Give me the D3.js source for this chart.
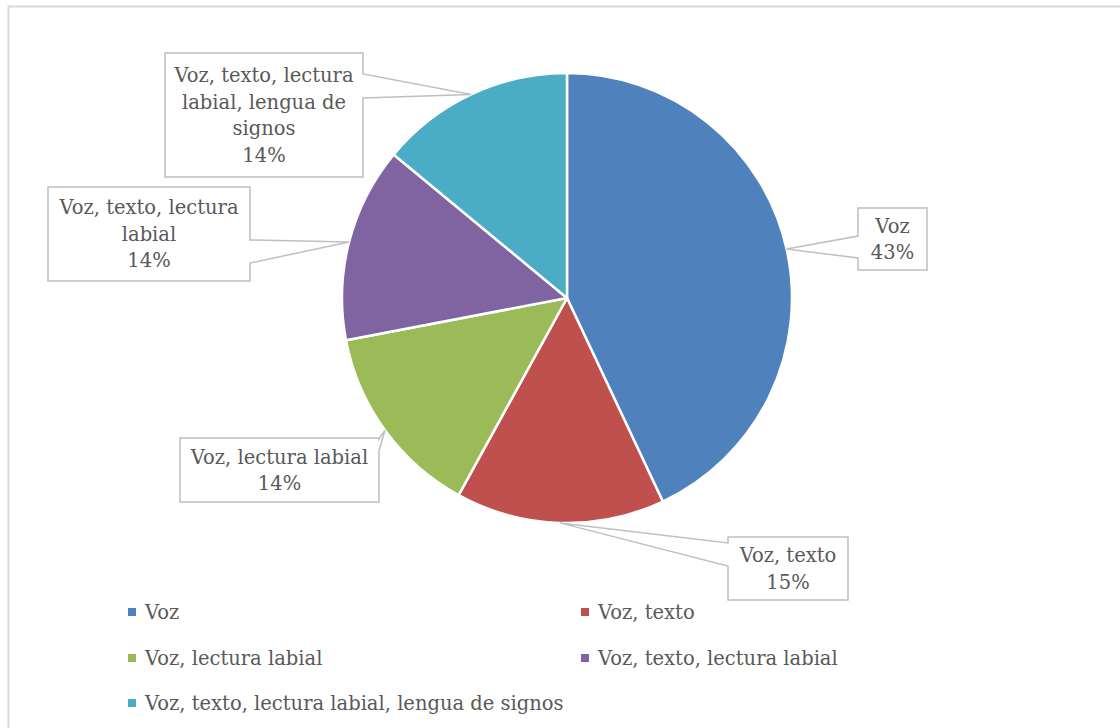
<!DOCTYPE html>
<html>
<head>
<meta charset="utf-8">
<script src="https://cdn.jsdelivr.net/npm/d3@7"></script>
<style>
  html, body { margin: 0; padding: 0; background: #fff; }
  svg text { font-family: "DejaVu Serif", serif; fill: #595959; }
</style>
</head>
<body>
<svg id="chart" width="1120" height="728"></svg>
<script>
// Modalidades de comunicación (porcentaje de respuestas)
const categories = [
  "Voz",
  "Voz, texto",
  "Voz, lectura labial",
  "Voz, texto, lectura labial",
  "Voz, texto, lectura labial, lengua de signos"
];
const values = [43, 15, 14, 14, 14];
const colors = ["#4F81BD", "#C0504D", "#9BBB59", "#8064A2", "#4BACC6"];
// Texto de cada etiqueta, partido en líneas
const labelLines = [
  ["Voz"],
  ["Voz, texto"],
  ["Voz, lectura labial"],
  ["Voz, texto, lectura", "labial"],
  ["Voz, texto, lectura", "labial, lengua de", "signos"]
];

const svg = d3.select("#chart");

// Marco del gráfico
svg.append("rect")
  .attr("x", 8.5).attr("y", 6.5)
  .attr("width", 1130).attr("height", 740)
  .attr("fill", "none").attr("stroke", "#d9d9d9").attr("stroke-width", 2);

const cx = 567, cy = 298, R = 225;

const pie = d3.pie().sort(null).value(d => d)
  .startAngle(0).endAngle(2 * Math.PI);
const arcs = pie(values);
const arc = d3.arc().innerRadius(0).outerRadius(R);
const edge = d3.arc().innerRadius(R).outerRadius(R);

const g = svg.append("g").attr("transform", `translate(${cx},${cy})`);
g.selectAll("path.slice")
  .data(arcs)
  .join("path")
  .attr("class", "slice")
  .attr("d", arc)
  .attr("fill", (d, i) => colors[i])
  .attr("stroke", "#fff")
  .attr("stroke-width", 2.5)
  .attr("stroke-linejoin", "round");

// Cajas de las etiquetas (posición, lado del puntero y tramo del puntero)
const boxes = [
  { x: 858, y: 208, w: 69,  h: 62,  side: "left",  a: 236, b: 258 },
  { x: 728, y: 537, w: 120, h: 63,  side: "left",  a: 543, b: 566 },
  { x: 180, y: 438, w: 199, h: 64,  side: "right", a: 439, b: 451 },
  { x: 48,  y: 187, w: 202, h: 94,  side: "right", a: 240, b: 263 },
  { x: 165, y: 53,  w: 198, h: 124, side: "right", a: 74,  b: 98 }
];

function calloutPath(bx, tip) {
  const x0 = bx.x, y0 = bx.y, x1 = bx.x + bx.w, y1 = bx.y + bx.h;
  const p = d3.path();
  if (bx.side === "right") {
    p.moveTo(x0, y0); p.lineTo(x1, y0); p.lineTo(x1, bx.a);
    p.lineTo(tip[0], tip[1]); p.lineTo(x1, bx.b);
    p.lineTo(x1, y1); p.lineTo(x0, y1); p.closePath();
  } else {
    p.moveTo(x0, y0); p.lineTo(x1, y0); p.lineTo(x1, y1); p.lineTo(x0, y1);
    p.lineTo(x0, bx.b); p.lineTo(tip[0], tip[1]); p.lineTo(x0, bx.a);
    p.closePath();
  }
  return p.toString();
}

const fmt = d3.format(".0%");
const total = d3.sum(values);
const lineH = 26.5;
const fontSize = 19.5;

arcs.forEach((d, i) => {
  const bx = boxes[i];
  const c = edge.centroid(d);
  const tip = [cx + c[0], cy + c[1]];
  svg.append("path")
    .attr("d", calloutPath(bx, tip))
    .attr("fill", "#fff")
    .attr("stroke", "#bfbfbf")
    .attr("stroke-width", 1.5);
  const lines = labelLines[i].concat([fmt(values[i] / total)]);
  const midY = bx.y + bx.h / 2;
  const t = svg.append("text")
    .attr("text-anchor", "middle")
    .attr("font-size", fontSize);
  lines.forEach((ln, k) => {
    t.append("tspan")
      .attr("x", bx.x + bx.w / 2)
      .attr("y", midY + (k - (lines.length - 1) / 2) * lineH)
      .attr("dy", "0.35em")
      .text(ln);
  });
});

// Leyenda
const legendCols = [128, 581];
const legendRows = [612, 658, 703];
const leg = svg.append("g");
categories.forEach((name, i) => {
  const x = legendCols[i % 2], y = legendRows[Math.floor(i / 2)];
  leg.append("rect")
    .attr("x", x).attr("y", y - 4)
    .attr("width", 8).attr("height", 8)
    .attr("fill", colors[i]);
  leg.append("text")
    .attr("x", x + 17).attr("y", y)
    .attr("dy", "0.35em")
    .attr("font-size", fontSize)
    .text(name);
});
</script>
</body>
</html>
